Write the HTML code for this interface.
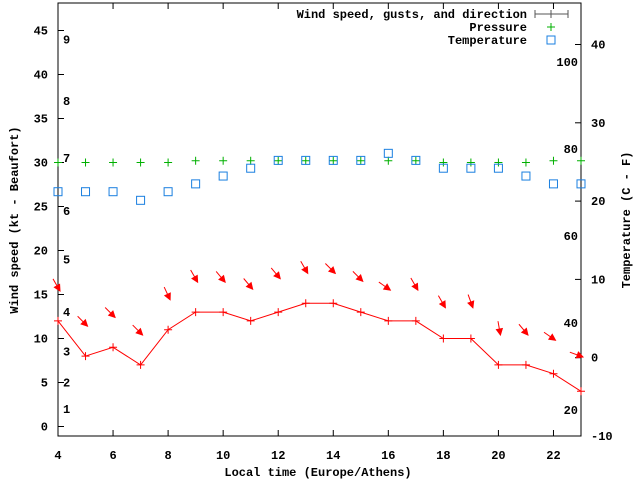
<!DOCTYPE html>
<html><head><meta charset="utf-8"><style>
body{margin:0;background:#fff}
svg text{font-family:"Liberation Mono",monospace;font-weight:bold;font-size:12px;fill:#000}
</style></head><body>
<svg width="640" height="480" viewBox="0 0 640 480">
<g id="grid"></g>
<g id="marks"></g>
</svg>
<script>
const hours=[4,5,6,7,8,9,10,11,12,13,14,15,16,17,18,19,20,21,22,23];
const windKt=[12,8,9,7,11,13,13,12,13,14,14,13,12,12,10,10,7,7,6,4];
const gustKt=[15.4,11.4,12.4,10.4,14.4,16.4,16.4,15.6,16.8,17.4,17.4,16.5,15.5,15.5,13.5,13.5,10.4,10.4,9.8,7.9];
const windFrom=[330,315,315,315,335,330,320,320,320,330,315,315,305,330,330,340,350,320,305,290];
const pressure=[30,30,30,30,30,30.2,30.2,30.2,30.2,30.2,30.2,30.2,30.2,30.2,30,30,30,30,30.2,30.2];
const tempC=[21.2,21.2,21.2,20.1,21.2,22.2,23.2,24.2,25.2,25.2,25.2,25.2,26.1,25.2,24.2,24.2,24.2,23.2,22.2,22.2];
const xTicks=[4,6,8,10,12,14,16,18,20,22];
const yTicks=[0,5,10,15,20,25,30,35,40,45];
const y2Ticks=[-10,0,10,20,30,40];
const fTicks=[20,40,60,80,100];
const bftTicks=[1,2,3,4,5,6,7,8,9];
const bftKt=[2,5,8.5,13,19,24.5,30.5,37,44];

const L=58,R=581,T=3,B=436;
const X=h=>L+(h-4)*(R-L)/19;
const Y=v=>426.5-v*8.8;
const Y2=c=>357.7-c*7.83;
const NS="http://www.w3.org/2000/svg";
const g=document.getElementById('grid'),m=document.getElementById('marks');
function el(t,a,p){const e=document.createElementNS(NS,t);for(const k in a)e.setAttribute(k,a[k]);(p||g).appendChild(e);return e;}
function txt(x,y,s,anchor,p){const e=el('text',{x:x,y:y,'text-anchor':anchor||'middle'},p);e.textContent=s;return e;}

let f=el('rect',{x:L,y:T,width:R-L,height:B-T,fill:'none',stroke:'#000','stroke-width':1});


xTicks.forEach(h=>{
  el('line',{x1:X(h),y1:B,x2:X(h),y2:B-6,stroke:'#000'});
  el('line',{x1:X(h),y1:T,x2:X(h),y2:T+6,stroke:'#000'});
  const t=txt(X(h),459,String(h));
  
  
});
yTicks.forEach(v=>{
  el('line',{x1:L,y1:Y(v),x2:L+6,y2:Y(v),stroke:'#000'});
  const t=txt(48,Y(v)+4,String(v),'end');
  
  
});
y2Ticks.forEach(v=>{
  el('line',{x1:R,y1:Y2(v),x2:R-6,y2:Y2(v),stroke:'#000'});
  const t=txt(591,Y2(v)+4,String(v),'start');
  
  
});
fTicks.forEach(v=>{
  const c=(v-32)*5/9;
  const t=txt(578,Y2(c)+4,String(v),'end');
  
  
});
bftTicks.forEach((b,i)=>{
  const t=txt(63,Y(bftKt[i])+4,String(b),'start');
  
  
});
let a=txt(318,476,'Local time (Europe/Athens)');


a=el('text',{x:0,y:0,'text-anchor':'middle',transform:'translate(18,220) rotate(-90)'});a.textContent='Wind speed (kt - Beaufort)';


a=el('text',{x:0,y:0,'text-anchor':'middle',transform:'translate(630,220) rotate(-90)'});a.textContent='Temperature (C - F)';



// legend
const lg=el('g',{});


txt(527,18,'Wind speed, gusts, and direction','end',lg);
el('line',{x1:535,y1:14,x2:568,y2:14,stroke:'#555'},lg);
el('line',{x1:551,y1:10,x2:551,y2:18,stroke:'#555'},lg);
el('line',{x1:535,y1:10,x2:535,y2:18,stroke:'#555'},lg);
el('line',{x1:568,y1:10,x2:568,y2:18,stroke:'#555'},lg);
txt(527,31,'Pressure','end',lg);
el('path',{d:'M547 27h8M551 23v8',stroke:'#00b000',fill:'none'},lg);
txt(527,44,'Temperature','end',lg);
el('rect',{x:547,y:36,width:8,height:8,stroke:'#1a7fe0',fill:'none'},lg);

// pressure
pressure.forEach((p,i)=>{
  const x=X(hours[i]),y=Y(p);
  const e=el('path',{d:`M${x-4} ${y}h8M${x} ${y-4}v8`,stroke:'#00b000',fill:'none'},m);
  
  
});
// temperature
tempC.forEach((c,i)=>{
  const e=el('rect',{x:X(hours[i])-4,y:Y2(c)-4,width:8,height:8,stroke:'#1a7fe0',fill:'none'},m);
  
  
});
// wind line
const wl=el('polyline',{points:windKt.map((w,i)=>X(hours[i])+','+Y(w)).join(' '),stroke:'#f00',fill:'none'},m);


windKt.forEach((w,i)=>{
  const x=X(hours[i]),y=Y(w);
  const e=el('path',{d:`M${x-4} ${y}h8M${x} ${y-4}v8`,stroke:'#f00',fill:'none'},m);
  
  
});
// gust arrows
gustKt.forEach((gk,i)=>{
  const tx=X(hours[i])+2,ty=Y(gk);
  const b=(windFrom[i]+180)*Math.PI/180;
  const dx=Math.sin(b),dy=-Math.cos(b);
  const len=14;
  const sx=tx-dx*len,sy=ty-dy*len;
  const px=-dy,py=dx;
  const hx=tx-dx*6,hy=ty-dy*6;
  const e=el('g',{},m);
  
  
  el('line',{x1:sx,y1:sy,x2:tx,y2:ty,stroke:'#f00'},e);
  el('polygon',{points:`${tx},${ty} ${hx+px*3},${hy+py*3} ${hx-px*3},${hy-py*3}`,fill:'#f00',stroke:'#f00'},e);
});
</script>
</body></html>
